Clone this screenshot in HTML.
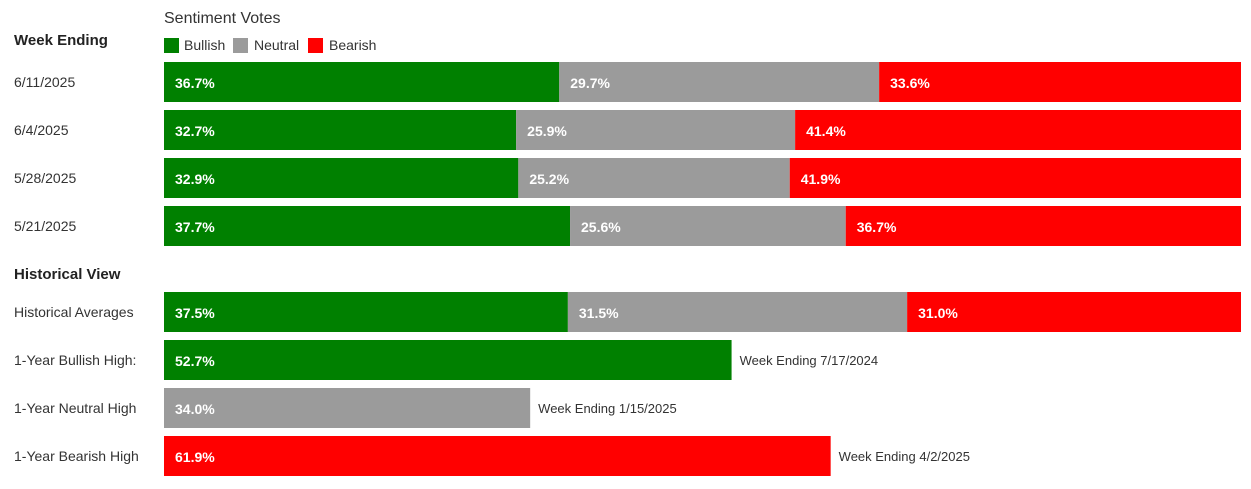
<!DOCTYPE html>
<html><head><meta charset="utf-8">
<style>
html,body{margin:0;padding:0;background:#fff;}
body{width:1251px;height:484px;overflow:hidden;font-family:"Liberation Sans",sans-serif;}
</style></head>
<body>
<svg id="chart" width="1251" height="484" xmlns="http://www.w3.org/2000/svg" font-family="Liberation Sans, sans-serif">
<text x="164" y="23" font-size="16" fill="#333">Sentiment Votes</text>
<text x="14" y="45" font-size="15" font-weight="bold" fill="#222">Week Ending</text>
<g>
<rect x="164" y="38" width="15" height="15" fill="#008000"/>
<text x="184" y="50" font-size="14" fill="#333">Bullish</text>
<rect x="233" y="38" width="15" height="15" fill="#9b9b9b"/>
<text x="254" y="50" font-size="14" fill="#333">Neutral</text>
<rect x="308" y="38" width="15" height="15" fill="#ff0000"/>
<text x="329" y="50" font-size="14" fill="#333">Bearish</text>
</g>
<text x="14" y="279" font-size="15" font-weight="bold" fill="#222">Historical View</text>
</svg>
<script>
const weekLabels = ["6/11/2025","6/4/2025","5/28/2025","5/21/2025","Historical Averages"];
const bullish = [36.7,32.7,32.9,37.7,37.5];
const neutral = [29.7,25.9,25.2,25.6,31.5];
const bearish = [33.6,41.4,41.9,36.7,31.0];
const highLabels = ["1-Year Bullish High:","1-Year Neutral High","1-Year Bearish High"];
const highValues = [52.7,34.0,61.9];
const highNotes = ["Week Ending 7/17/2024","Week Ending 1/15/2025","Week Ending 4/2/2025"];

const svg = document.getElementById('chart');
const NS = 'http://www.w3.org/2000/svg';
const X0 = 164, W = 1077, BH = 40;
const xScale = v => X0 + v / 100 * W;
const rowY = [62,110,158,206,292];
const highY = [340,388,436];
const colors = ["#008000","#9b9b9b","#ff0000"];
function mk(tag, attrs){const e=document.createElementNS(NS,tag);for(const k in attrs)e.setAttribute(k,attrs[k]);svg.appendChild(e);return e;}
function label(x,y,txt,bold,fill,size){const t=mk('text',{x:x,y:y,'font-size':size||14,fill:fill||'#333'});if(bold)t.setAttribute('font-weight','bold');t.textContent=txt;return t;}

weekLabels.forEach((lab,i)=>{
  const y = rowY[i];
  const l = label(14,y+25,lab,false,'#333',14);
  
  
  const vals=[bullish[i],neutral[i],bearish[i]];
  let acc=0;
  vals.forEach((v,j)=>{
    const x1=xScale(acc), x2=xScale(Math.min(100,acc+v));
    const r=mk('rect',{x:x1,y:y,width:Math.max(0,x2-x1),height:BH,fill:colors[j]});
    
    
    const t=label(x1+11,y+26,v.toFixed(1)+'%',true,'#fff',14);
    
    
    acc+=v;
  });
});

highLabels.forEach((lab,i)=>{
  const y=highY[i];
  const l=label(14,y+25,lab,false,'#333',14);
  
  
  const x2=xScale(highValues[i]);
  const r=mk('rect',{x:X0,y:y,width:x2-X0,height:BH,fill:colors[i]});
  
  
  const t=label(X0+11,y+26,highValues[i].toFixed(1)+'%',true,'#fff',14);
  
  
  const n=label(x2+8,y+25,highNotes[i],false,'#333',13);
  
  
});
</script>
</body></html>
